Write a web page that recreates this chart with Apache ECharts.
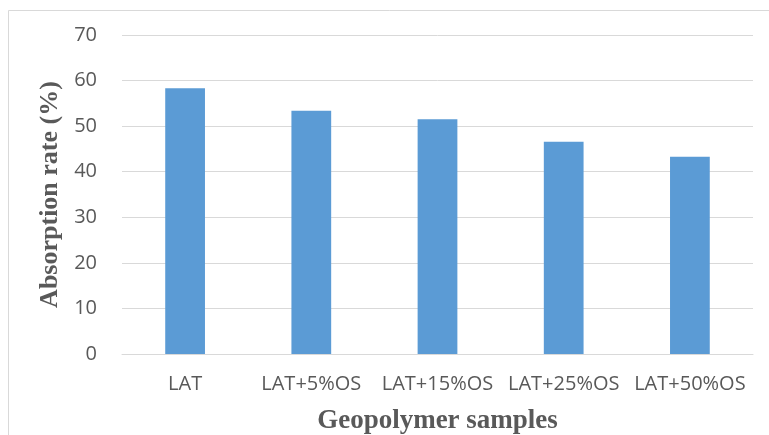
<!DOCTYPE html>
<html>
<head>
<meta charset="utf-8">
<script src="https://cdn.jsdelivr.net/npm/echarts@6/dist/echarts.min.js"></script>
<style>
  html, body { margin: 0; padding: 0; background: #fff; }
  #chart { width: 769px; height: 435px; }
</style>
</head>
<body>
<div id="chart"></div>
<script>
// Water absorption of geopolymer samples
const categories = ['LAT', 'LAT+5%OS', 'LAT+15%OS', 'LAT+25%OS', 'LAT+50%OS'];
const absorption = [58.3, 53.4, 51.5, 46.6, 43.3];
const yTicks = { min: 0, max: 70, interval: 10 };

const chart = echarts.init(document.getElementById('chart'), null, { renderer: 'canvas' });

chart.setOption({
  animation: false,
  backgroundColor: '#ffffff',
  graphic: [{
    type: 'rect',
    shape: { x: 8.5, y: 10.5, width: 780, height: 440 },
    style: { fill: 'none', stroke: '#d9d9d9', lineWidth: 1 },
    silent: true
  }],
  grid: { left: 122, right: 16, top: 35, bottom: 81, outerBoundsMode: 'none', containLabel: false },
  xAxis: {
    type: 'category',
    data: categories,
    name: 'Geopolymer samples',
    nameLocation: 'middle',
    nameGap: 54,
    nameTextStyle: { fontFamily: 'Liberation Serif', fontWeight: 'bold', fontSize: 27, color: '#595959' },
    axisLine: { lineStyle: { color: '#d9d9d9', width: 1 } },
    axisTick: { show: false },
    axisLabel: { fontFamily: 'Open Sans', fontSize: 20, color: '#595959', margin: 20, interval: 0 }
  },
  yAxis: {
    type: 'value',
    min: yTicks.min,
    max: yTicks.max,
    interval: yTicks.interval,
    name: 'Absorption rate (%)',
    nameLocation: 'middle',
    nameGap: 58,
    nameTextStyle: { fontFamily: 'Liberation Serif', fontWeight: 'bold', fontSize: 26, color: '#595959' },
    axisLine: { show: false },
    axisTick: { show: false },
    axisLabel: { fontFamily: 'Open Sans', fontSize: 20, color: '#595959', margin: 25 },
    splitLine: { lineStyle: { color: '#d9d9d9', width: 1 } }
  },
  series: [{
    type: 'bar',
    data: absorption,
    barWidth: '31.5%',
    itemStyle: { color: '#5b9bd5' }
  }]
});
</script>
</body>
</html>
